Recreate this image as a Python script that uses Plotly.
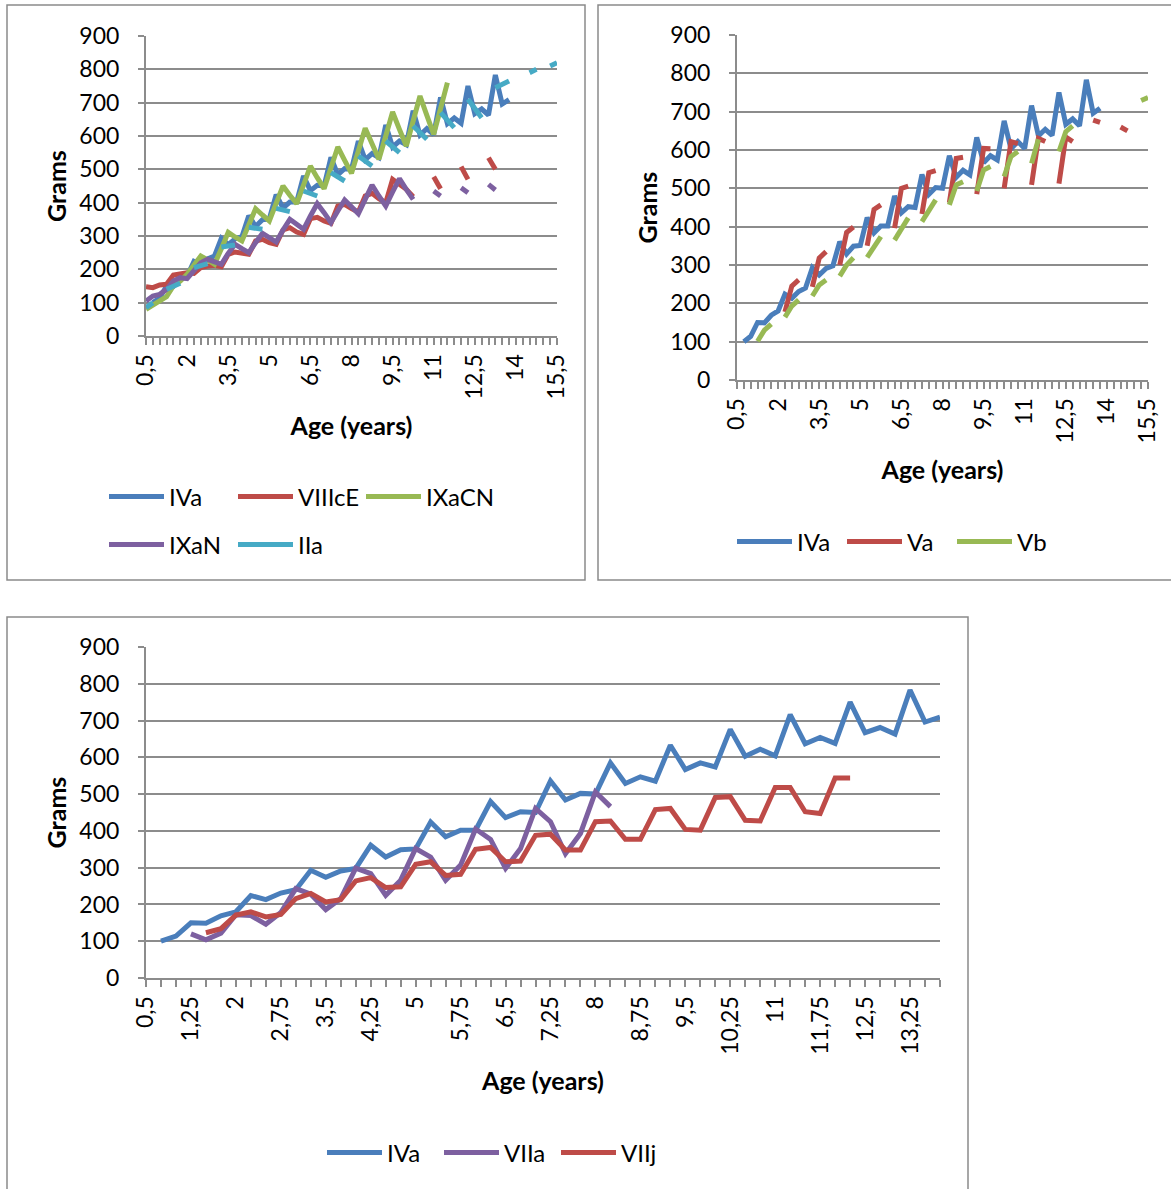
import plotly.graph_objects as go

# Age categories (years), quarterly steps
AGES = [0.5, 0.75, 1.0, 1.25, 1.5, 1.75, 2.0, 2.25, 2.5, 2.75, 3.0, 3.25, 3.5, 3.75,
        4.0, 4.25, 4.5, 4.75, 5.0, 5.25, 5.5, 5.75, 6.0, 6.25, 6.5, 6.75, 7.0, 7.25,
        7.5, 7.75, 8.0, 8.25, 8.5, 8.75, 9.0, 9.25, 9.5, 9.75, 10.0, 10.25, 10.5,
        10.75, 11.0, 11.25, 11.5, 11.75, 12.0, 12.25, 12.5, 12.75, 13.0, 13.25,
        13.5, 13.75, 14.0, 14.25, 14.5, 14.75, 15.0, 15.25, 15.5]

# Tick labels
TOP_TICKS = [0.5, 2, 3.5, 5, 6.5, 8, 9.5, 11, 12.5, 14, 15.5]
TOP_TICK_TEXT = ["0,5", "2", "3,5", "5", "6,5", "8", "9,5", "11", "12,5", "14", "15,5"]
BOT_TICKS = [0.5, 1.25, 2, 2.75, 3.5, 4.25, 5, 5.75, 6.5, 7.25, 8, 8.75, 9.5,
             10.25, 11, 11.75, 12.5, 13.25]
BOT_TICK_TEXT = ["0,5", "1,25", "2", "2,75", "3,5", "4,25", "5", "5,75", "6,5",
                 "7,25", "8", "8,75", "9,5", "10,25", "11", "11,75", "12,5", "13,25"]
Y_TICKS = [0, 100, 200, 300, 400, 500, 600, 700, 800, 900]

N = None
# Weight (grams) per age; None = no measurement
IVa = [N, 100, 114, 150, 149, 169, 180, 224, 213, 231, 240, 293, 274, 291, 298, 361,
       329, 349, 351, 424, 384, 402, 402, 480, 436, 452, 450, 536, 484, 502, 500, 585,
       529, 547, 535, 633, 567, 585, 574, 676, 603, 622, 604, 716, 637, 654, 638, 750,
       667, 681, 663, 783, 696, 709]

VIIIcE = [148, 145, 153, 155, 183, 185, 190, 188, 205, 210, 212, 208, 245, 252, 250,
          245, 285, 290, 280, 275, 318, 325, 312, 305, 352, 356, 345, 338, 390, 395,
          382, 372, 420, 428, 412, 400, 470, 455, 440, 418, N, N, 478, 442, N, N, 508,
          470, N, N, 535, 500]

IXaCN = [80, 92, 103, 118, 150, 165, 185, 210, 240, 228, 215, 262, 311, 297, 285, 333,
         382, 363, 345, 398, 450, 422, 397, 453, 510, 475, 442, 505, 567, 527, 488, 555,
         623, 577, 530, 600, 672, 620, 570, 645, 720, 662, 605, 682, 760]

IXaN = [105, 120, 125, 140, 165, 175, 172, 195, 220, 230, 222, 215, 248, 275, 262, 250,
        280, 308, 295, 282, 318, 350, 335, 320, 360, 397, 370, 340, 375, 408, 388, 367,
        410, 453, 420, 390, 432, 472, 440, 410, N, N, 435, 420, N, N, 445, 430, N, N,
        455, 438]

IIa = [85, 100, N, 140, 150, 158, N, 205, 211, 217, N, 267, 270, 273, N, 326, 324, 320,
       N, 383, 378, 373, N, 435, 428, 420, N, 490, 478, 465, N, 540, 525, 510, N, 585,
       568, 550, N, 630, 610, 590, N, 670, 648, 625, N, 710, 682, 655, N, 745, 755, 765,
       N, N, 790, 800, N, 810, 820]

Va = [N, N, N, N, N, N, N, 178, 245, 261, N, 243, 318, 335, N, 300, 385, 399, N, 350,
      445, 457, N, 396, 500, 506, N, 433, 541, 546, N, 463, 578, 581, N, 485, 604, 603,
      N, 500, 622, 617, N, 509, 630, 622, N, 512, 634, 622, N, N, 678, 672, N, N, 660,
      650]

Vb = [N, N, N, 101, 130, 146, N, 164, 193, 209, N, 219, 248, 261, N, 271, 300, 319, N,
      320, 350, 374, N, 365, 396, 423, N, 413, 443, 470, N, 457, 509, 517, N, 493, 548,
      557, N, 531, 583, 596, N, 565, 628, N, N, 596, 648, 663, N, N, N, N, N, N, N, N,
      N, 729, 737]

VIIa = [N, N, N, 120, 104, 122, 172, 170, 146, 178, 243, 228, 186, 216, 299, 284, 225,
        266, 352, 329, 266, 307, 405, 377, 298, 352, 461, 425, 338, 393, 506, 466]

VIIj = [N, N, N, N, 123, 134, 171, 180, 166, 173, 216, 230, 207, 213, 264, 273, 246,
        248, 309, 316, 279, 282, 350, 355, 316, 318, 388, 391, 348, 348, 425, 427, 377,
        377, 458, 461, 404, 402, 491, 493, 429, 427, 518, 518, 452, 447, 544, 544]

BLUE, RED, GREEN, PURPLE, AQUA = "#4A7EBB", "#BE4B48", "#98B954", "#7D60A0", "#46AAC5"

W, H = 1171, 1189
FONT = "Lato"
GRID = "#8C8C8C"


def px_x(v):
    return v / W


def px_y(v):
    return 1 - v / H


fig = go.Figure()


def add(name, values, color, xa, ya, legend):
    fig.add_trace(go.Scatter(
        x=AGES[:len(values)], y=values, name=name, mode="lines",
        line=dict(color=color, width=5), connectgaps=False,
        xaxis=xa, yaxis=ya, legend=legend, hoverinfo="skip"))


add("IVa", IVa, BLUE, "x", "y", "legend")
add("VIIIcE", VIIIcE, RED, "x", "y", "legend")
add("IXaCN", IXaCN, GREEN, "x", "y", "legend5")
add("IXaN", IXaN, PURPLE, "x", "y", "legend2")
add("IIa", IIa, AQUA, "x", "y", "legend2")

add("IVa", IVa, BLUE, "x2", "y2", "legend3")
add("Va", Va, RED, "x2", "y2", "legend3")
add("Vb", Vb, GREEN, "x2", "y2", "legend3")

add("IVa", IVa, BLUE, "x3", "y3", "legend4")
add("VIIa", VIIa, PURPLE, "x3", "y3", "legend4")
add("VIIj", VIIj, RED, "x3", "y3", "legend4")

tickfont = dict(family=FONT, size=23, color="#000000")
titlefont = dict(family=FONT, size=25, color="#000000", weight="bold")


def xaxis(domain, rng, tickvals, ticktext, anchor):
    return dict(domain=domain, range=rng, anchor=anchor, tickmode="array",
                tickvals=tickvals, ticktext=ticktext, tickangle=-90,
                tickfont=tickfont, showgrid=False, zeroline=False,
                showline=True, linecolor=GRID, linewidth=2,
                ticks="outside", ticklen=7, tickwidth=1.5, tickcolor=GRID,
                minor=dict(dtick=0.25, tick0=0.5, ticks="outside", ticklen=7,
                           tickwidth=1.5, tickcolor=GRID, showgrid=False),
                title=dict(text="Age (years)", font=titlefont, standoff=19),
                automargin=False, fixedrange=True)


def yaxis(domain, anchor):
    return dict(domain=domain, range=[0, 900], anchor=anchor, tickmode="array",
                tickvals=Y_TICKS, tickfont=tickfont, showgrid=True,
                gridcolor=GRID, gridwidth=2, zeroline=False, showline=True,
                linecolor=GRID, linewidth=2, ticks="outside", ticklen=6,
                tickwidth=1.5, tickcolor=GRID, ticklabelstandoff=14,
                title=dict(text="Grams", font=titlefont, standoff=6),
                automargin=False, fixedrange=True)


legend_common = dict(orientation="h", font=dict(family=FONT, size=24, color="#000000"),
                     xanchor="left", yanchor="middle", itemwidth=55,
                     bgcolor="rgba(0,0,0,0)", traceorder="normal")

box = dict(type="rect", xref="paper", yref="paper", line=dict(color="#8A8A8A", width=1.5),
           fillcolor="rgba(0,0,0,0)", layer="below")

fig.update_layout(
    width=W, height=H, margin=dict(l=0, r=0, t=0, b=0, autoexpand=False),
    paper_bgcolor="white", plot_bgcolor="white", separators=", ",
    xaxis=xaxis([px_x(146), px_x(557)], [0.5, 15.5], TOP_TICKS, TOP_TICK_TEXT, "y"),
    yaxis=yaxis([px_y(336), px_y(36)], "x"),
    xaxis2=xaxis([px_x(737), px_x(1148)], [0.5, 15.5], TOP_TICKS, TOP_TICK_TEXT, "y2"),
    yaxis2=yaxis([px_y(380), px_y(35)], "x2"),
    xaxis3=xaxis([px_x(146), px_x(940)], [0.5, 13.75], BOT_TICKS, BOT_TICK_TEXT, "y3"),
    yaxis3=yaxis([px_y(978), px_y(647)], "x3"),
    legend=dict(legend_common, x=px_x(104), y=px_y(497), entrywidth=59),
    legend5=dict(legend_common, x=px_x(361), y=px_y(497)),
    legend2=dict(legend_common, x=px_x(104), y=px_y(545), entrywidth=59),
    legend3=dict(legend_common, x=px_x(732), y=px_y(542), entrywidth=40),
    legend4=dict(legend_common, x=px_x(322), y=px_y(1153), entrywidth=47),
    shapes=[
        dict(box, x0=px_x(7), x1=px_x(585), y0=px_y(580), y1=px_y(5)),
        dict(box, x0=px_x(598), x1=px_x(1171) + 0.01, y0=px_y(580), y1=px_y(5)),
        dict(box, x0=px_x(7), x1=px_x(968), y0=px_y(1189) - 0.01, y1=px_y(617)),
    ],
    showlegend=True,
)

fig.write_html("out.html")
